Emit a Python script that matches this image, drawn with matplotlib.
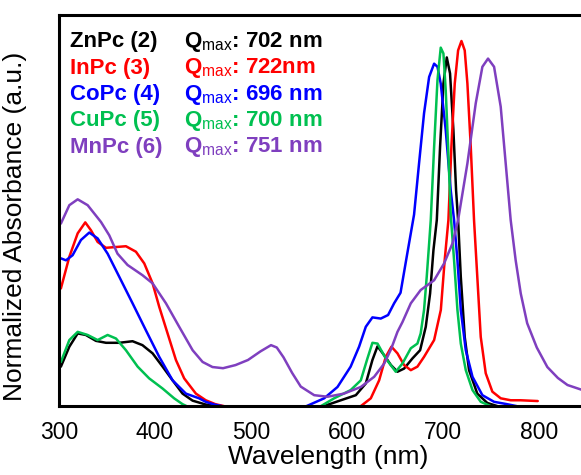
import matplotlib
matplotlib.use("Agg")
import matplotlib.pyplot as plt

plt.rcParams["font.family"] = ["Liberation Sans", "DejaVu Sans"]
plt.rcParams["mathtext.fontset"] = "custom"
plt.rcParams["mathtext.rm"] = "Liberation Sans"
plt.rcParams["mathtext.bf"] = "Liberation Sans:bold"

# wavelength (nm) / normalized absorbance
# (values a little below 0 sit under the axis, as in the original)
zn_wl = [302, 310.8, 319.5, 328, 338.5, 349, 362.8, 376.7, 387, 397.6, 408, 418.4,
         428.8, 439.3, 453, 465, 475,
         565, 576, 593.8, 609.4, 619.8, 626.7, 632, 639, 646, 652.8, 659.7, 668.4,
         676.4, 682.3, 686.8, 690.3, 693.8, 697.2, 700.7, 704.2, 707.6, 711.1, 713.9,
         716, 718.8, 722.9, 727.4, 736, 746.5, 757, 767]
zn_abs = [0.101, 0.152, 0.186, 0.182, 0.167, 0.162, 0.162, 0.166, 0.156, 0.135, 0.101, 0.066,
          0.032, 0.014, 0.004, 0.0, -0.03,
          -0.03, 0.0, 0.015, 0.028, 0.058, 0.118, 0.153, 0.13, 0.105, 0.088, 0.096, 0.122,
          0.143, 0.203, 0.288, 0.399, 0.476, 0.663, 0.825, 0.892, 0.851, 0.706, 0.552,
          0.476, 0.331, 0.177, 0.092, 0.032, 0.008, 0.0, -0.03]

in_wl = [302, 310.8, 319.5, 327.4, 333.3, 340.3, 349, 359.4, 369.8, 380.2, 388.9, 397.6,
         404.5, 413.2, 421.9, 430.5, 442.7, 453, 463, 472, 480,
         605, 614.6, 625, 633.7, 640.6, 646.5, 652.8, 659.7, 666.7, 673.6, 680.5, 691,
         698, 702, 705.9, 709, 712.5, 716, 719.5, 722.9, 725.7, 729.2, 732.6, 736,
         739.6, 744.8, 751.7, 760.4, 770.8, 781, 790, 799]
in_abs = [0.301, 0.382, 0.442, 0.47, 0.45, 0.42, 0.405, 0.407, 0.409, 0.395, 0.365, 0.314,
          0.254, 0.186, 0.118, 0.071, 0.032, 0.015, 0.005, 0.0, -0.03,
          -0.03, 0.0, 0.02, 0.066, 0.126, 0.152, 0.135, 0.105, 0.092, 0.101, 0.126, 0.169,
          0.246, 0.373, 0.476, 0.663, 0.825, 0.91, 0.934, 0.91, 0.825, 0.663, 0.476, 0.331,
          0.177, 0.084, 0.037, 0.02, 0.015, 0.015, 0.014, 0.013]

co_wl = [302, 307.3, 314.2, 322.9, 331.6, 340.3, 350.7, 362.8, 376.7, 390.6, 404.5, 418.4,
         432.3, 446, 453, 462, 470, 480,
         545, 558, 576.4, 590.3, 604, 612.8, 619.8, 626.7, 635.4, 643, 649.3, 656, 663,
         670.1, 675.3, 680.5, 685.8, 691, 694.5, 697.9, 703.1, 708.3, 711.8, 715.3,
         718.8, 724, 731, 741.3, 753.5, 767, 777, 787]
co_abs = [0.378, 0.373, 0.386, 0.425, 0.444, 0.429, 0.39, 0.331, 0.263, 0.194, 0.126, 0.066,
          0.032, 0.02, 0.011, 0.004, 0.0, -0.03,
          -0.03, 0.0, 0.02, 0.049, 0.101, 0.152, 0.203, 0.227, 0.224, 0.233, 0.263, 0.29, 0.39,
          0.49, 0.621, 0.749, 0.842, 0.876, 0.868, 0.825, 0.706, 0.552, 0.476, 0.373,
          0.246, 0.143, 0.075, 0.028, 0.011, 0.005, 0.0, -0.03]

cu_wl = [302, 310.8, 319.5, 329.9, 340.3, 350.7, 359.4, 369.8, 382, 394, 408, 420,
         428.8, 433, 440,
         560, 573, 586.8, 604, 614.6, 621.5, 626.7, 632, 640.6, 651, 658, 666.7, 673.6,
         677, 680.5, 683.3, 685.8, 687.5, 691, 694.5, 697.9, 700.7, 703.1, 705.6, 708.3,
         711.8, 715.3, 718.8, 724, 731, 739.6, 750, 760]
cu_abs = [0.113, 0.169, 0.19, 0.182, 0.169, 0.182, 0.173, 0.143, 0.101, 0.071, 0.045, 0.02,
          0.005, 0.0, -0.03,
          -0.03, 0.0, 0.02, 0.041, 0.066, 0.122, 0.162, 0.16, 0.122, 0.088, 0.109, 0.148, 0.16,
          0.186, 0.246, 0.331, 0.416, 0.476, 0.663, 0.834, 0.917, 0.902, 0.808, 0.663, 0.49,
          0.373, 0.246, 0.16, 0.092, 0.041, 0.011, 0.0, -0.03]

mn_wl = [302, 310.8, 319.5, 329.9, 343.8, 352.4, 361, 371.5, 387, 397.6, 411.5, 425.3,
         439.3, 449.7, 460, 471, 484, 497, 510, 521, 527, 534, 543, 552, 566, 580, 597,
         614.6, 628.5, 639, 646, 652.8, 658, 666.7, 677, 691, 701.4, 710.1, 716, 725.7,
         734.4, 741.3, 747.2, 753.5, 760.4, 765.6, 770.8, 776, 781.3, 788, 798, 809, 820,
         830, 847]
mn_abs = [0.467, 0.514, 0.529, 0.514, 0.471, 0.437, 0.39, 0.361, 0.335, 0.314, 0.263, 0.203,
          0.143, 0.113, 0.1, 0.097, 0.105, 0.118, 0.14, 0.156, 0.15, 0.125, 0.085, 0.05, 0.028,
          0.024, 0.032, 0.049, 0.075, 0.109, 0.145, 0.19, 0.215, 0.263, 0.297, 0.322, 0.365,
          0.416, 0.476, 0.621, 0.775, 0.868, 0.889, 0.868, 0.766, 0.621, 0.476, 0.373, 0.288,
          0.212, 0.15, 0.10, 0.072, 0.054, 0.04]

names = ["ZnPc (2)", "InPc (3)", "CoPc (4)", "CuPc (5)", "MnPc (6)"]
qmax = ["702 nm", "722nm", "696 nm", "700 nm", "751 nm"]
colors = ["#000000", "#ff0000", "#0000ff", "#00c050", "#7f3fbf"]
series = [(zn_wl, zn_abs), (in_wl, in_abs), (co_wl, co_abs),
          (cu_wl, cu_abs), (mn_wl, mn_abs)]

fig = plt.figure(figsize=(5.81, 4.75), dpi=100)
ax = fig.add_axes([0.1015, 0.145, 0.9, 0.823])

for (wl, ab), col in zip(series, colors):
    ax.plot(wl, ab, color=col, lw=1.8, solid_joinstyle="round",
            solid_capstyle="round")

ax.set_xlim(300, 845)
ax.set_ylim(0, 1.0)
ax.set_xticks([300, 400, 500, 600, 700, 800])
ax.set_yticks([])
ax.tick_params(axis="x", length=0, pad=11, labelsize=16.5)
for s in ["left", "bottom", "top"]:
    ax.spines[s].set_linewidth(2.2)
ax.spines["right"].set_visible(False)

ax.set_xlabel("Wavelength (nm)", fontsize=19)
ax.xaxis.set_label_coords(0.515, -0.1)
ax.set_ylabel("Normalized Absorbance (a.u.)", fontsize=19)
ax.yaxis.set_label_coords(-0.062, 0.46)

y0 = 42
for i, (nm, q, col) in enumerate(zip(names, qmax, colors)):
    ypx = y0 + i * 26.3
    yf = 1 - ypx / 475
    fig.text(70 / 581, yf, nm, color=col, fontsize=16, fontweight="bold", va="center")
    fig.text(184 / 581, yf, r"$\mathbf{Q}_{\mathrm{max}}$: " + q, color=col,
             fontsize=16, fontweight="bold", va="center")

fig.savefig("out.png", dpi=100)
